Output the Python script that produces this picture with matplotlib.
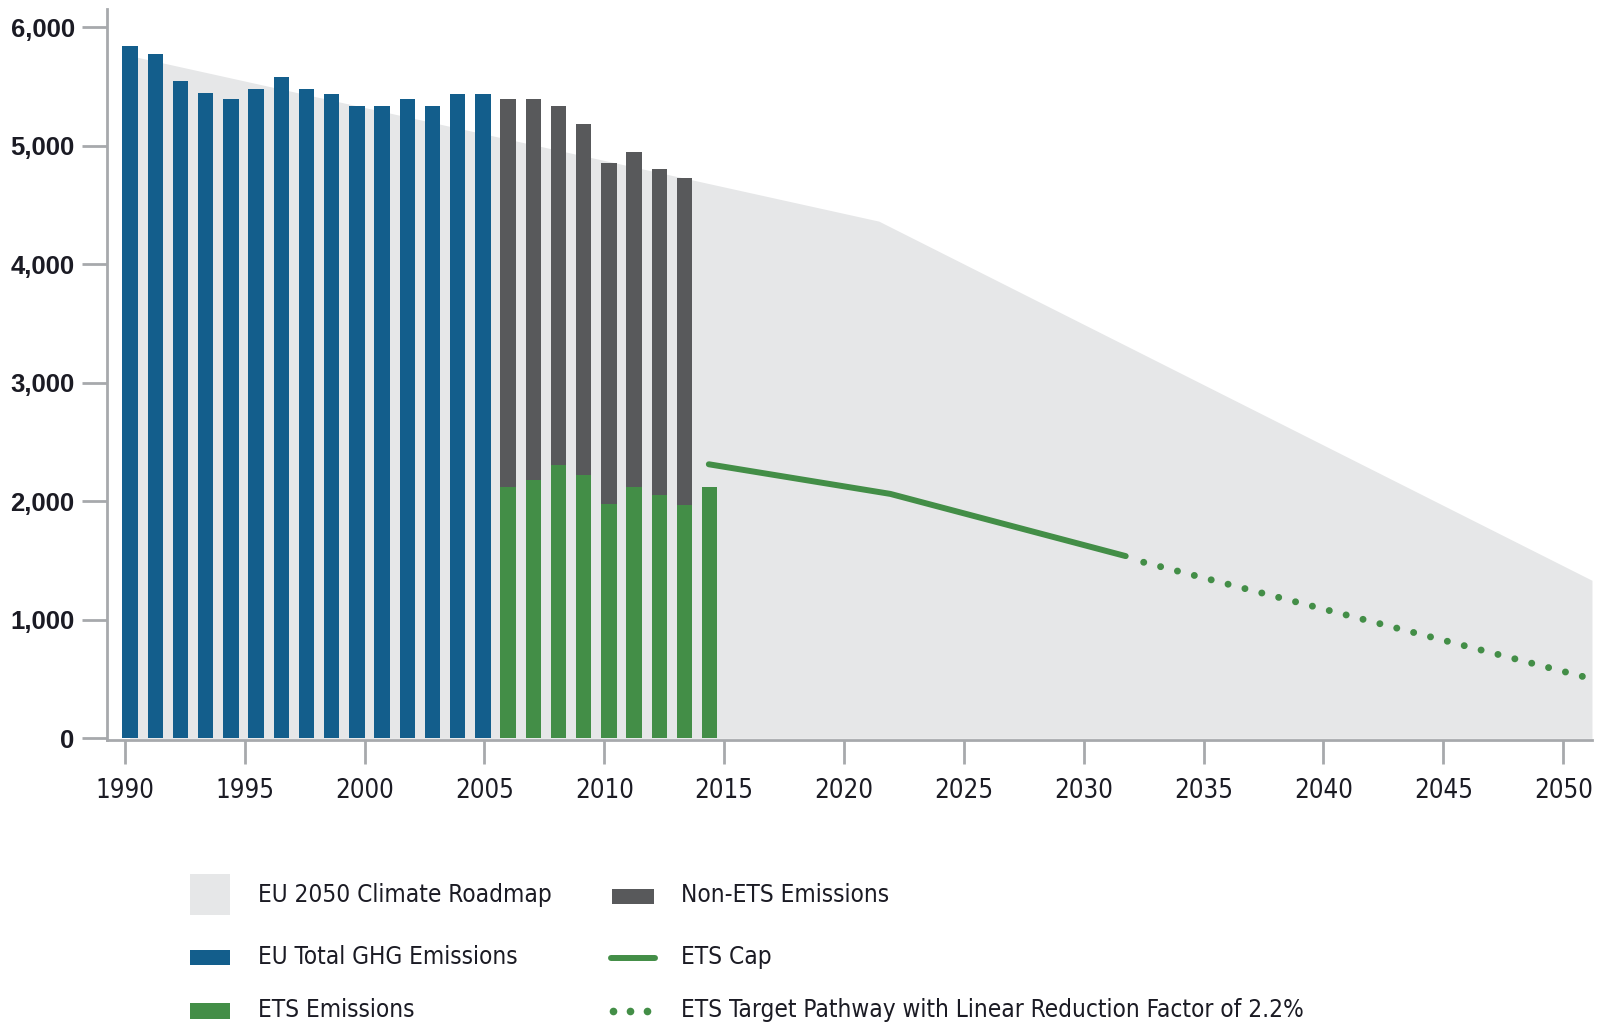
import matplotlib
matplotlib.use("Agg")
import matplotlib.pyplot as plt
from matplotlib.patches import Rectangle
from matplotlib.lines import Line2D

# EU greenhouse gas emissions (Mt CO2e), ETS cap and 2050 roadmap
bar_years = list(range(1990, 2014))
total_years = list(range(1990, 2013))
total_ghg = [5845, 5772, 5544, 5443, 5397, 5479, 5580, 5479, 5439, 5333,
             5333, 5397, 5333, 5439, 5439,
             5395, 5395, 5336, 5186, 4857, 4950, 4801, 4725]
ets_years = list(range(2005, 2014))
ets_emissions = [2119, 2178, 2311, 2226, 1975, 2119, 2057, 1973, 2119]

roadmap_x = [1990.2, 2021.45, 2051.2]
roadmap_y = [5762, 4365, 1334]

cap_x = [2014.36, 2021.93, 2031.75]
cap_y = [2313, 2063, 1538]

target_x = [2032.5, 2050.95]
target_y = [1486, 515]

xticks = list(range(1990, 2051, 5))
yticks = [0, 1000, 2000, 3000, 4000, 5000, 6000]

BLUE = '#135E8C'
DARK = '#58595B'
GREEN = '#438E47'
FILL = '#E6E7E8'
AXIS = '#A7A9AC'
TEXT = '#1b1b24'
NARROW = dict(family='DejaVu Sans', stretch='condensed')


def bar_pos(year):
    # bars are laid out slightly wider than one calendar year apart
    return 1990.22 + (year - 1990) * 1.051


fig = plt.figure(figsize=(15.99, 10.26), dpi=100)
ax = fig.add_axes([0.0667, 0.2784, 0.9289, 0.7128])

ax.fill_between(roadmap_x, 0, roadmap_y, color=FILL, linewidth=0, zorder=1)

w = 0.645
for yr, v in zip(total_years, total_ghg):
    if yr < 2005:
        ax.bar(bar_pos(yr), v, width=w, color=BLUE, linewidth=0, zorder=2)
for yr, v in zip(ets_years, ets_emissions):
    ax.bar(bar_pos(yr), v, width=w, color=GREEN, linewidth=0, zorder=2)
    if yr in total_years:
        tot = total_ghg[total_years.index(yr)]
        ax.bar(bar_pos(yr), tot - v, bottom=v, width=w, color=DARK,
               linewidth=0, zorder=2)

ax.plot(cap_x, cap_y, color=GREEN, lw=4.3, solid_capstyle='round', zorder=3)
ax.plot(target_x, target_y, color=GREEN, lw=5, dashes=(0.01, 2.5),
        dash_capstyle='round', zorder=3)

ax.set_xlim(1989.24, 2051.2)
ax.set_ylim(-17, 6155)
ax.set_xticks(xticks)
ax.set_yticks(yticks)
ax.set_yticklabels(['{:,}'.format(t) for t in yticks])

for s in ['top', 'right']:
    ax.spines[s].set_visible(False)
for s in ['left', 'bottom']:
    ax.spines[s].set_color(AXIS)
    ax.spines[s].set_linewidth(2)
ax.spines['bottom'].set_zorder(4)

ax.tick_params(axis='y', length=18, width=2, color=AXIS, pad=5,
               labelsize=18.5, labelcolor=TEXT)
ax.tick_params(axis='x', length=17, width=2, color=AXIS, pad=10,
               labelsize=18.5, labelcolor=TEXT)
for lab in ax.get_yticklabels():
    lab.set_family('Liberation Sans')
    lab.set_fontweight('bold')
for lab in ax.get_xticklabels():
    lab.set_family(NARROW['family'])
    lab.set_stretch(NARROW['stretch'])

# legend, laid out in pixel coordinates below the plot
leg = fig.add_axes([0, 0, 1, 0.2])
leg.set_xlim(0, 1599)
leg.set_ylim(1026, 820.8)
leg.axis('off')

leg.add_patch(Rectangle((190, 874), 40, 41, color=FILL, lw=0))
leg.add_patch(Rectangle((190, 950), 40, 15, color=BLUE, lw=0))
leg.add_patch(Rectangle((190, 1003), 40, 16, color=GREEN, lw=0))
leg.add_patch(Rectangle((612, 889), 42, 15, color=DARK, lw=0))
leg.add_line(Line2D([611, 655], [958.5, 958.5], color=GREEN, lw=4.3,
                    solid_capstyle='round'))
leg.plot([613, 630, 647], [1011, 1011, 1011], 'o', color=GREEN, ms=5.5,
         mew=0)

items = [
    (258, 895, 'EU 2050 Climate Roadmap'),
    (258, 957, 'EU Total GHG Emissions'),
    (258, 1010, 'ETS Emissions'),
    (681, 895, 'Non-ETS Emissions'),
    (681, 957, 'ETS Cap'),
    (681, 1010, 'ETS Target Pathway with Linear Reduction Factor of 2.2%'),
]
for x, y, s in items:
    leg.text(x, y, s, fontsize=17.5, color=TEXT, ha='left', va='center',
             **NARROW)

fig.savefig('out.png', dpi=100)
